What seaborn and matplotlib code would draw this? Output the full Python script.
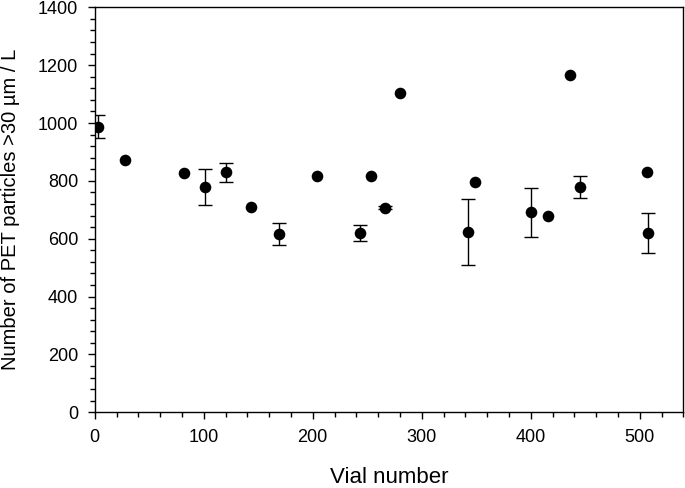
import numpy as np
import pandas as pd
import matplotlib
matplotlib.use('Agg')
import matplotlib.pyplot as plt
from matplotlib.ticker import MultipleLocator
import seaborn as sns

vial = [3, 28, 82, 101, 120, 143, 169, 204, 243, 253, 266, 280,
        342, 349, 400, 416, 436, 445, 507, 508]
particles = [987, 872, 826, 780, 830, 710, 616, 816, 620, 817, 707, 1105,
             622, 796, 691, 678, 1166, 779, 831, 620]
# foutbalken (NaN = geen foutbalk)
err = [40, np.nan, np.nan, 62, 33, np.nan, 38, np.nan, 29, np.nan, 5, np.nan,
       114, np.nan, 84, np.nan, np.nan, 39, np.nan, 68]

df = pd.DataFrame({'vial': vial, 'particles': particles, 'err': err})

sns.set_style('ticks')
plt.rcParams['font.family'] = ['Liberation Sans', 'DejaVu Sans']
plt.rcParams['text.color'] = 'black'
plt.rcParams['axes.labelcolor'] = 'black'
plt.rcParams['xtick.color'] = 'black'
plt.rcParams['ytick.color'] = 'black'

fig = plt.figure(figsize=(6.85, 4.88), dpi=100)
ax = fig.add_axes([0.1383, 0.1553, 0.8593, 0.8297])

# Foutbalken alleen waar ze er zijn
df_err = df.dropna(subset=['err'])
ax.errorbar(df_err['vial'], df_err['particles'], yerr=df_err['err'],
            fmt='none', ecolor='black', elinewidth=1.0, capsize=4.7,
            capthick=1.0, zorder=2)

sns.scatterplot(data=df, x='vial', y='particles', color='black',
                edgecolor='black', s=70, linewidth=0, zorder=3, ax=ax)

ax.set_xlim(0, 540)
ax.set_ylim(0, 1400)
ax.xaxis.set_major_locator(MultipleLocator(100))
ax.xaxis.set_minor_locator(MultipleLocator(20))
ax.yaxis.set_major_locator(MultipleLocator(200))
ax.yaxis.set_minor_locator(MultipleLocator(40))

ax.tick_params(which='major', direction='out', length=5, width=1,
               labelsize=13, pad=7, color='black', labelcolor='black')
ax.tick_params(which='minor', direction='out', length=3.5, width=1,
               color='black')
for s in ax.spines.values():
    s.set_visible(True)
    s.set_linewidth(1.0)
    s.set_color('black')

ax.set_xlabel('Vial number', fontsize=16, labelpad=15)
ax.set_ylabel('Number of PET particles >30 µm / L', fontsize=14.5, labelpad=13)

fig.savefig('out.png', dpi=100)
